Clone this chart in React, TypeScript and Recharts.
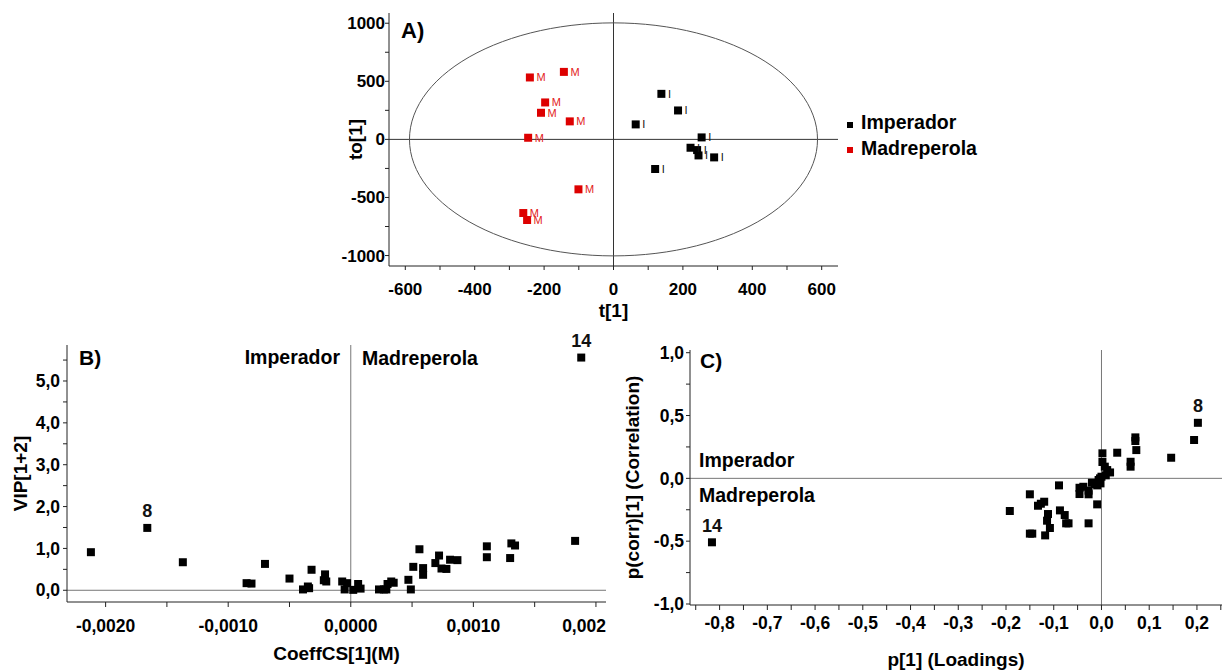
import React from 'react';
import {
  ScatterChart,
  Scatter,
  XAxis,
  YAxis,
  ZAxis,
  ReferenceLine,
  LabelList,
} from 'recharts';

const FONT = "'Liberation Sans', Arial, Helvetica, sans-serif";
const RED = '#dd0000';

// A) scores t[1] / to[1]
const imperadorT = [138, 186, 64, 254, 222, 241, 245, 290, 120];
const imperadorTo = [392, 249, 129, 17, -72, -92, -138, -155, -255];
const madreperolaT = [-241, -143, -197, -209, -126, -246, -101, -260, -249];
const madreperolaTo = [533, 581, 318, 229, 155, 14, -430, -634, -694];
// Hotelling T2 ellipse semi-axes
const ellipseT = 588;
const ellipseTo = 1003;
const aXTicks = [-600, -500, -400, -300, -200, -100, 0, 100, 200, 300, 400, 500, 600];
const aYTicks = [-1000, -750, -500, -250, 0, 250, 500, 750, 1000];

// B) CoeffCS[1](M) vs VIP[1+2]
const coeffCS = [
  -0.00212, -0.00166, -0.00137, -0.00085, -0.00081, -0.0007, -0.0005, -0.00039,
  -0.00035, -0.00034, -0.00032, -0.00022, -0.00021, -0.0002, -0.00007, -0.00005,
  -0.00003, 0.00002, 0.00006, 0.00008, 0.00023, 0.00027, 0.00029, 0.0003,
  0.00033, 0.00035, 0.00047, 0.00049, 0.00051, 0.00056, 0.00059, 0.00059,
  0.00069, 0.00072, 0.00074, 0.00078, 0.00081, 0.00087, 0.00111, 0.00111,
  0.0013, 0.00131, 0.00134, 0.00183, 0.00188,
];
const vip = [
  0.91, 1.49, 0.67, 0.17, 0.16, 0.63, 0.28, 0.02,
  0.09, 0.05, 0.49, 0.24, 0.38, 0.21, 0.21, 0.02,
  0.17, 0.01, 0.15, 0.04, 0.02, 0.02, 0.02, 0.15,
  0.21, 0.18, 0.25, 0.02, 0.56, 0.98, 0.37, 0.53,
  0.65, 0.83, 0.52, 0.51, 0.73, 0.72, 1.05, 0.79,
  0.77, 1.12, 1.07, 1.18, 5.56,
];
const bTags: Record<number, string> = { 1: '8', 44: '14' };
const bXTicks = [-0.002, -0.0015, -0.001, -0.0005, 0, 0.0005, 0.001, 0.0015, 0.002];
const bYTicks = [0, 0.5, 1, 1.5, 2, 2.5, 3, 3.5, 4, 4.5, 5, 5.5];

// C) p[1] loadings vs p(corr)[1]
const pLoad = [
  -0.816, -0.192, -0.15, -0.15, -0.145, -0.133, -0.127, -0.12, -0.118, -0.112,
  -0.114, -0.108, -0.089, -0.087, -0.077, -0.074, -0.069, -0.046, -0.046, -0.038,
  -0.027, -0.027, -0.027, -0.02, -0.014, -0.009, -0.009, -0.006, -0.003, -0.002,
  0.0, 0.002, 0.002, 0.007, 0.009, 0.012, 0.018, 0.033, 0.061, 0.061,
  0.071, 0.071, 0.073, 0.146, 0.194, 0.202,
];
const pCorr = [
  -0.509, -0.26, -0.127, -0.44, -0.44, -0.218, -0.202, -0.186, -0.454, -0.284,
  -0.337, -0.395, -0.056, -0.255, -0.292, -0.358, -0.358, -0.075, -0.125, -0.067,
  -0.098, -0.127, -0.358, -0.035, -0.045, -0.207, -0.056, -0.013, 0.0, -0.04,
  0.013, 0.199, 0.13, 0.093, 0.024, 0.066, 0.047, 0.204, 0.132, 0.093,
  0.326, 0.297, 0.225, 0.164, 0.305, 0.442,
];
const cTags: Record<number, string> = { 0: '14', 45: '8' };
const cXTicks = [
  -0.85, -0.8, -0.75, -0.7, -0.65, -0.6, -0.55, -0.5, -0.45, -0.4, -0.35, -0.3,
  -0.25, -0.2, -0.15, -0.1, -0.05, 0, 0.05, 0.1, 0.15, 0.2, 0.25,
];
const cYTicks = [-1, -0.75, -0.5, -0.25, 0, 0.25, 0.5, 0.75, 1];

const imperadorData = imperadorT.map((x, i) => ({ x, y: imperadorTo[i], label: 'I' }));
const madreperolaData = madreperolaT.map((x, i) => ({ x, y: madreperolaTo[i], label: 'M' }));
const ellipseData = Array.from({ length: 121 }, (_, i) => {
  const a = (i / 120) * 2 * Math.PI;
  return { x: ellipseT * Math.cos(a), y: ellipseTo * Math.sin(a) };
});
const vipData = coeffCS.map((x, i) => ({ x, y: vip[i], tag: bTags[i] }));
const loadData = pLoad.map((x, i) => ({ x, y: pCorr[i], tag: cTags[i] }));

const comma = (v: number, d: number) => v.toFixed(d).replace('.', ',');
const near = (v: number, k: number) => Math.abs(v * k - Math.round(v * k)) < 1e-6;

const tickStyle = (size: number) => ({
  fill: '#000',
  fontSize: size,
  fontWeight: 700,
  fontFamily: FONT,
});
const titleStyle = {
  fill: '#000',
  fontSize: 19,
  fontWeight: 700,
  fontFamily: FONT,
  textAnchor: 'middle' as const,
};
const AXIS = { stroke: '#222' };

// last tick of panel B sits against the right edge, shown as "0,002"
const CoeffTick = (props: any) => {
  const { x, y, payload } = props;
  const v = payload.value;
  const last = v === bXTicks[bXTicks.length - 1];
  const text = last ? '0,002' : near(v, 1000) ? comma(v, 4) : '';
  return (
    <text
      x={last ? x + 10 : x}
      y={y}
      dy='0.71em'
      textAnchor={last ? 'end' : 'middle'}
      {...tickStyle(17.5)}
    >
      {text}
    </text>
  );
};

const Note = ({ left, right, top, size = 19.5, color = '#000', children }: any) => (
  <div
    style={{
      position: 'absolute',
      left,
      right,
      top,
      fontSize: size,
      fontWeight: 700,
      fontFamily: FONT,
      lineHeight: 1,
      color,
      whiteSpace: 'nowrap',
    }}
  >
    {children}
  </div>
);

const ScoresPlot = () => (
  <div style={{ position: 'absolute', left: 300, top: 0 }}>
    <ScatterChart width={560} height={330} margin={{ top: 13, right: 22, bottom: 14, left: 0 }}>
      <XAxis
        type='number'
        dataKey='x'
        domain={[-647, 647]}
        allowDataOverflow
        ticks={aXTicks}
        interval={0}
        tickFormatter={(v: number) => (v % 200 === 0 ? String(v) : '')}
        tick={tickStyle(17)}
        tickSize={4}
        tickMargin={13}
        axisLine={AXIS}
        tickLine={AXIS}
        height={50}
        label={{ value: 't[1]', position: 'insideBottom', offset: -1, style: titleStyle }}
      />
      <YAxis
        type='number'
        dataKey='y'
        domain={[-1090, 1088]}
        allowDataOverflow
        ticks={aYTicks}
        interval={0}
        tickFormatter={(v: number) => (v % 500 === 0 ? String(v) : '')}
        tick={tickStyle(17)}
        tickSize={4}
        tickMargin={0}
        axisLine={AXIS}
        tickLine={AXIS}
        width={89}
        label={{ value: 'to[1]', angle: -90, position: 'insideLeft', offset: 55, style: titleStyle }}
      />
      <ZAxis range={[44, 44]} />
      <ReferenceLine x={0} stroke='#333' />
      <ReferenceLine y={0} stroke='#333' />
      <Scatter
        data={ellipseData}
        line={{ stroke: '#555', strokeWidth: 1 }}
        shape={() => <g />}
        isAnimationActive={false}
      />
      <Scatter data={imperadorData} fill='#000' shape='square' isAnimationActive={false}>
        <LabelList dataKey='label' position='right' offset={2} fill='#111' fontSize={11} fontFamily={FONT} />
      </Scatter>
      <Scatter data={madreperolaData} fill={RED} shape='square' isAnimationActive={false}>
        <LabelList dataKey='label' position='right' offset={2} fill='#e32222' fontSize={11} fontFamily={FONT} />
      </Scatter>
    </ScatterChart>
  </div>
);

const VipPlot = () => (
  <div style={{ position: 'absolute', left: 0, top: 330 }}>
    <ScatterChart width={607} height={340} margin={{ top: 15, right: 1, bottom: 18, left: 0 }}>
      <XAxis
        type='number'
        dataKey='x'
        domain={[-0.002315, 0.002082]}
        allowDataOverflow
        ticks={bXTicks}
        interval={0}
        tick={<CoeffTick />}
        tickSize={5}
        tickMargin={13}
        axisLine={AXIS}
        tickLine={AXIS}
        height={50}
        label={{ value: 'CoeffCS[1](M)', position: 'insideBottom', offset: -8, style: titleStyle }}
      />
      <YAxis
        type='number'
        dataKey='y'
        domain={[-0.28, 5.86]}
        allowDataOverflow
        ticks={bYTicks}
        interval={0}
        tickFormatter={(v: number) => (Number.isInteger(v) ? comma(v, 1) : '')}
        tick={tickStyle(17.5)}
        tickSize={4}
        tickMargin={3}
        axisLine={AXIS}
        tickLine={AXIS}
        width={67}
        label={{ value: 'VIP[1+2]', angle: -90, position: 'insideLeft', offset: 20, style: titleStyle }}
      />
      <ZAxis range={[32, 32]} />
      <ReferenceLine x={0} stroke='#777' />
      <ReferenceLine y={0} stroke='#777' />
      <Scatter data={vipData} fill='#000' shape='square' isAnimationActive={false}>
        <LabelList dataKey='tag' position='top' offset={6} fill='#111' fontSize={18} fontWeight={700} fontFamily={FONT} />
      </Scatter>
    </ScatterChart>
  </div>
);

const LoadingsPlot = () => (
  <div style={{ position: 'absolute', left: 620, top: 330 }}>
    <ScatterChart width={605} height={340} margin={{ top: 20, right: 3, bottom: 15, left: 0 }}>
      <XAxis
        type='number'
        dataKey='x'
        domain={[-0.862, 0.2525]}
        allowDataOverflow
        ticks={cXTicks}
        interval={0}
        tickFormatter={(v: number) => (near(v, 10) ? comma(v, 1) : '')}
        tick={tickStyle(17.5)}
        tickSize={5}
        tickMargin={7}
        axisLine={AXIS}
        tickLine={AXIS}
        height={50}
        label={{ value: 'p[1] (Loadings)', position: 'insideBottom', offset: -11, style: titleStyle }}
      />
      <YAxis
        type='number'
        dataKey='y'
        domain={[-1.008, 1.0215]}
        allowDataOverflow
        ticks={cYTicks}
        interval={0}
        tickFormatter={(v: number) => (near(v, 2) ? comma(v, 1) : '')}
        tick={tickStyle(17.5)}
        tickSize={4}
        tickMargin={2}
        axisLine={AXIS}
        tickLine={AXIS}
        width={70}
        label={{
          value: 'p(corr)[1] (Correlation)',
          angle: -90,
          position: 'insideLeft',
          offset: 12,
          style: titleStyle,
        }}
      />
      <ZAxis range={[32, 32]} />
      <ReferenceLine x={0} stroke='#777' />
      <ReferenceLine y={0} stroke='#777' />
      <Scatter data={loadData} fill='#000' shape='square' isAnimationActive={false}>
        <LabelList dataKey='tag' position='top' offset={6} fill='#111' fontSize={18} fontWeight={700} fontFamily={FONT} />
      </Scatter>
    </ScatterChart>
  </div>
);

export default function App() {
  return (
    <div
      style={{
        position: 'absolute',
        left: 0,
        top: 0,
        width: 1225,
        height: 670,
        background: '#fff',
        overflow: 'hidden',
      }}
    >
      <ScoresPlot />
      <VipPlot />
      <LoadingsPlot />

      {/* panel letters and group annotations */}
      <Note left={401} top={20} size={22}>A)</Note>
      <Note left={79} top={347} size={21}>B)</Note>
      <Note left={700} top={350} size={21}>C)</Note>

      <Note right={1225 - 340} top={347.5}>Imperador</Note>
      <Note left={362} top={349}>Madreperola</Note>
      <Note left={699} top={451}>Imperador</Note>
      <Note left={699} top={485.5}>Madreperola</Note>

      {/* legend of panel A */}
      <div style={{ position: 'absolute', left: 847, top: 122, width: 6, height: 6, background: '#000' }} />
      <div style={{ position: 'absolute', left: 847, top: 147, width: 6, height: 6, background: RED }} />
      <Note left={861} top={112.5}>Imperador</Note>
      <Note left={861} top={139}>Madreperola</Note>
    </div>
  );
}
